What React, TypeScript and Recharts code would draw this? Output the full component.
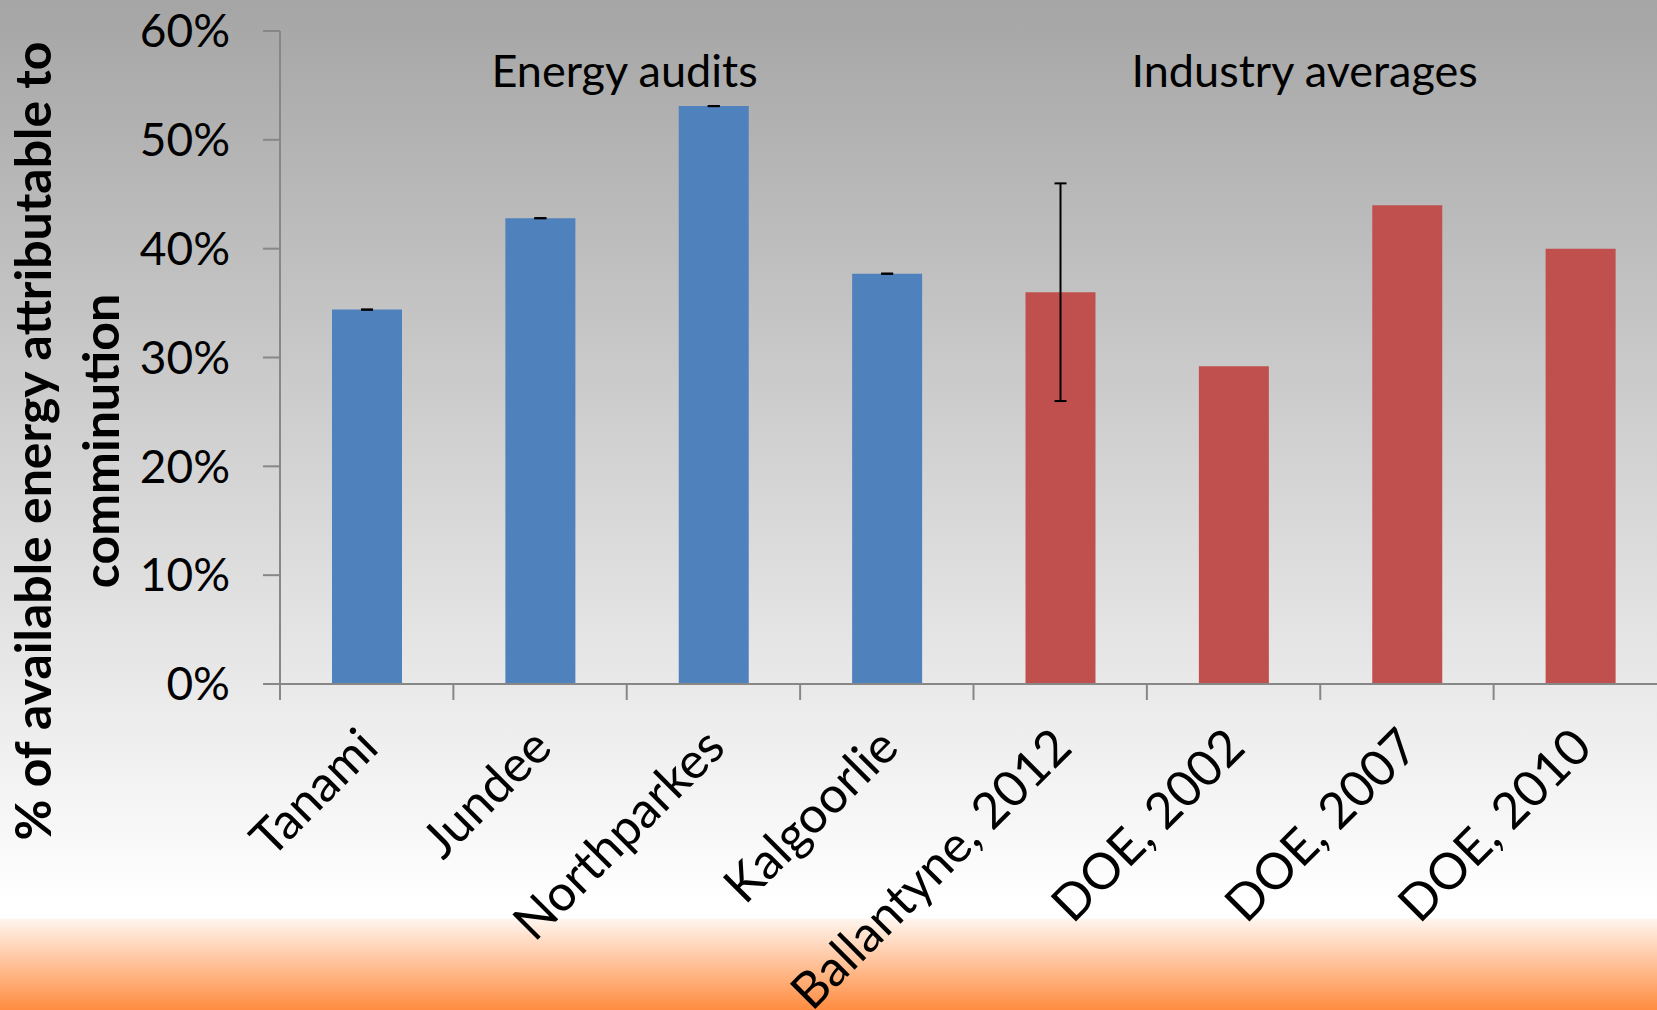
import React from 'react';
import { BarChart, Bar, XAxis, YAxis, Cell, ErrorBar } from 'recharts';

const categories = ['Tanami', 'Jundee', 'Northparkes', 'Kalgoorlie', 'Ballantyne, 2012', 'DOE, 2002', 'DOE, 2007', 'DOE, 2010'];
const values = [0.344, 0.428, 0.531, 0.377, 0.36, 0.292, 0.44, 0.40];
const errors: (number[] | null)[] = [[0, 0], [0, 0], [0, 0], [0, 0], [0.10, 0.10], null, null, null];
const groups = ['audit', 'audit', 'audit', 'audit', 'industry', 'industry', 'industry', 'industry'];
const yTicks = [0, 0.1, 0.2, 0.3, 0.4, 0.5, 0.6];
const groupLabels = ['Energy audits', 'Industry averages'];
const yTitle = ['% of available energy attributable to', 'comminution'];

const colors: Record<string, string> = { audit: '#4f81bd', industry: '#c0504d' };

const data = categories.map((c, i) => ({ name: c, value: values[i], err: errors[i], group: groups[i] }));

const W = 1700;
const H = 1010;
const M = { top: 31, right: 33, bottom: 0, left: 0 };
const YW = 280;
const XH = 326;
const BAND = (W - M.left - M.right - YW) / categories.length;
const FONT = 'Lato, "Noto Sans", sans-serif';
const AXIS = '#878787';

const XTick = (props: any) => {
  const { x, y, payload } = props;
  return (
    <g transform={`translate(${x},${y})`}>
      <line x1={-BAND / 2} x2={-BAND / 2} y1={0} y2={16} stroke={AXIS} strokeWidth={2} />
      <text
        transform={`translate(14,66) rotate(-45)`}
        textAnchor="end"
        fontSize={50}
        fontFamily={FONT}
        fill="#000"
      >
        {payload.value}
      </text>
    </g>
  );
};

export default function App() {
  return (
    <div
      style={{
        position: 'fixed',
        left: 0,
        top: 0,
        width: 1657,
        height: 1010,
        overflow: 'hidden',
        background:
          'linear-gradient(to bottom, #a5a5a5 0px, #ffffff 905px, #ffffff 918px, #fff5ee 919px, #ff8c40 1010px)',
        fontFamily: FONT,
      }}
    >
      <BarChart width={W} height={H} data={data} margin={M}>
        <XAxis
          dataKey="name"
          interval={0}
          height={XH}
          tickLine={false}
          tickSize={0}
          tickMargin={0}
          axisLine={{ stroke: AXIS, strokeWidth: 2 }}
          tick={<XTick />}
        />
        <YAxis
          width={YW}
          domain={[0, 0.6]}
          ticks={yTicks}
          interval={0}
          tickFormatter={(v: number) => `${Math.round(v * 100)}%`}
          tickSize={17}
          tickMargin={33}
          tickLine={{ stroke: AXIS, strokeWidth: 2 }}
          axisLine={{ stroke: AXIS, strokeWidth: 2 }}
          tick={{ fontSize: 46, fill: '#000', fontFamily: FONT }}
        />
        <Bar dataKey="value" barSize={70} isAnimationActive={false}>
          {data.map((d, i) => (
            <Cell key={i} fill={colors[d.group]} />
          ))}
          <ErrorBar dataKey="err" width={6} stroke="#000" strokeWidth={2} direction="y" isAnimationActive={false} />
        </Bar>
      </BarChart>
      <svg
        width={1657}
        height={1010}
        style={{ position: 'absolute', left: 0, top: 0, pointerEvents: 'none' }}
      >
        <text x={624.6} y={87} textAnchor="middle" fontSize={45} fontFamily={FONT} fill="#000">
          {groupLabels[0]}
        </text>
        <text x={1304.6} y={87} textAnchor="middle" fontSize={45} fontFamily={FONT} fill="#000">
          {groupLabels[1]}
        </text>
        <text
          transform="translate(51,441) rotate(-90)"
          textAnchor="middle"
          fontSize={50}
          fontWeight="bold"
          fontFamily={FONT}
          fill="#000"
        >
          {yTitle[0]}
        </text>
        <text
          transform="translate(119,441) rotate(-90)"
          textAnchor="middle"
          fontSize={50}
          fontWeight="bold"
          fontFamily={FONT}
          fill="#000"
        >
          {yTitle[1]}
        </text>
      </svg>
    </div>
  );
}
